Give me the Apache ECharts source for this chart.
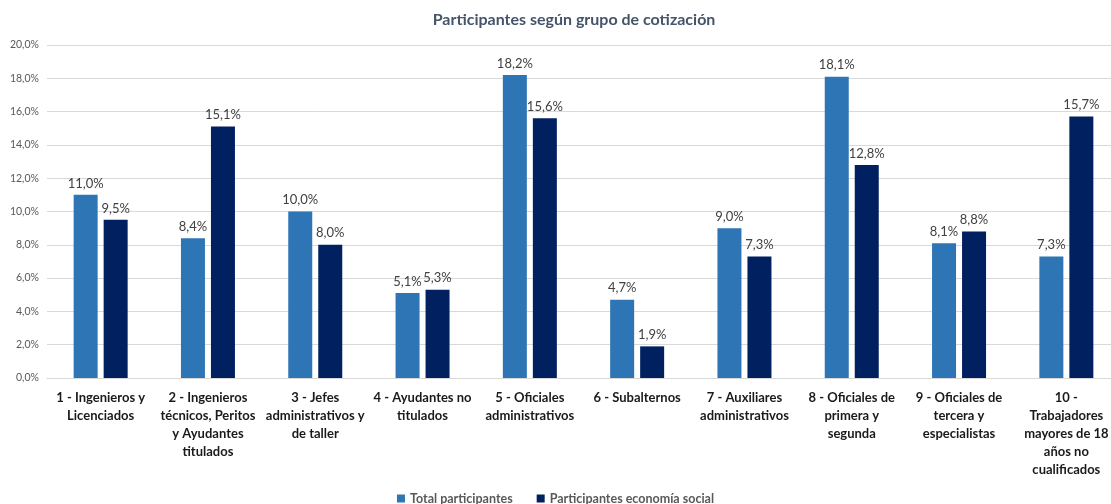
<!DOCTYPE html>
<html>
<head>
<meta charset="utf-8">
<script src="https://cdn.jsdelivr.net/npm/echarts@6/dist/echarts.min.js"></script>
<style>
  html, body { margin: 0; padding: 0; background: #fff; }
  #myChart { width: 1111px; height: 504px; }
</style>
</head>
<body>
<div id="myChart"></div>
<script>
// categorías (con saltos de línea como en el original)
const categories = [
  '1 - Ingenieros y\nLicenciados',
  '2 - Ingenieros\ntécnicos, Peritos\ny Ayudantes\ntitulados',
  '3 - Jefes\nadministrativos y\nde taller',
  '4 - Ayudantes no\ntitulados',
  '5 - Oficiales\nadministrativos',
  '6 - Subalternos',
  '7 - Auxiliares\nadministrativos',
  '8 - Oficiales de\nprimera y\nsegunda',
  '9 - Oficiales de\ntercera y\nespecialistas',
  '10 -\nTrabajadores\nmayores de 18\naños no\ncualificados'
];
const totalParticipantes = [11.0, 8.4, 10.0, 5.1, 18.2, 4.7, 9.0, 18.1, 8.1, 7.3];
const economiaSocial = [9.5, 15.1, 8.0, 5.3, 15.6, 1.9, 7.3, 12.8, 8.8, 15.7];

const fmt = v => v.toFixed(1).replace('.', ',') + '%';

const myChart = echarts.init(document.getElementById('myChart'));
myChart.setOption({
  animation: false,
  textStyle: { fontFamily: 'Lato, Open Sans, sans-serif' },
  color: ['#2E75B6', '#002060'],
  title: {
    text: 'Participantes según grupo de cotización',
    left: 569,
    top: 7,
    textAlign: 'center',
    textStyle: { fontSize: 16, fontWeight: 'bold', color: '#44546A' }
  },
  legend: {
    bottom: -6,
    left: 'center',
    itemWidth: 8,
    itemHeight: 8,
    itemGap: 24,
    icon: 'rect',
    textStyle: { fontSize: 12.5, fontWeight: 'bold', color: '#595959' },
    data: ['Total participantes', 'Participantes economía social']
  },
  grid: {
    left: 47,
    width: 1073,
    top: 45,
    bottom: 126,
    outerBoundsMode: 'none'
  },
  xAxis: {
    type: 'category',
    data: categories,
    axisTick: { show: false },
    axisLine: { lineStyle: { color: '#D9D9D9' } },
    axisLabel: {
      interval: 0,
      margin: 11,
      fontSize: 13,
      fontWeight: 'bold',
      color: '#1a1a1a',
      lineHeight: 18
    }
  },
  yAxis: {
    type: 'value',
    min: 0,
    max: 20,
    interval: 2,
    axisLine: { show: false },
    axisTick: { show: false },
    splitLine: { lineStyle: { color: '#D9D9D9' } },
    axisLabel: {
      fontSize: 10.5,
      color: '#595959',
      margin: 8,
      formatter: v => v.toFixed(1).replace('.', ',') + '%'
    }
  },
  series: [
    {
      name: 'Total participantes',
      type: 'bar',
      data: totalParticipantes,
      barWidth: 24,
      barGap: '25%',
      label: {
        show: true,
        position: 'top',
        fontSize: 13,
        color: '#404040',
        formatter: p => fmt(p.value)
      }
    },
    {
      name: 'Participantes economía social',
      type: 'bar',
      data: economiaSocial,
      barWidth: 24,
      label: {
        show: true,
        position: 'top',
        fontSize: 13,
        color: '#404040',
        formatter: p => fmt(p.value)
      }
    }
  ]
});
</script>
</body>
</html>
